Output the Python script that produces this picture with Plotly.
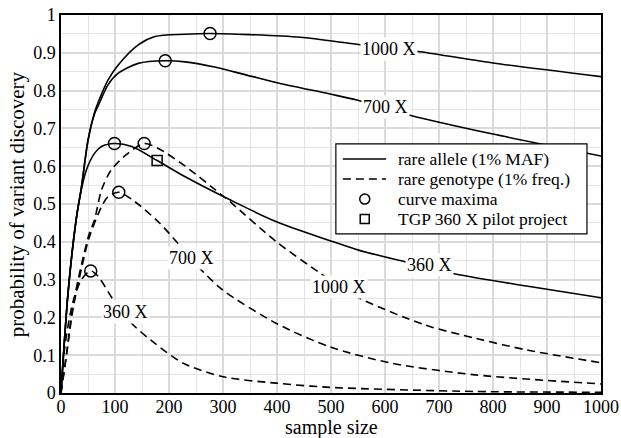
import plotly.graph_objects as go

# ---- data ----
# rare allele (solid) curves
sa1000_x = [0, 13, 28, 38, 50, 62, 69, 87, 106, 143, 174, 230, 276, 350, 443, 551, 665, 800, 1000]
sa1000_y = [0, 0.264, 0.458, 0.546, 0.669, 0.742, 0.77, 0.828, 0.868, 0.921, 0.943, 0.949, 0.951, 0.948, 0.941, 0.922, 0.903, 0.873, 0.837]

sa700_x = [0, 13, 28, 38, 50, 62, 69, 87, 106, 143, 193, 230, 282, 344, 406, 498, 548, 646, 800, 1000]
sa700_y = [0, 0.264, 0.458, 0.546, 0.668, 0.738, 0.76, 0.815, 0.846, 0.872, 0.879, 0.876, 0.863, 0.841, 0.819, 0.791, 0.775, 0.735, 0.685, 0.627]

sa360_x = [0, 13, 28, 38, 47, 62, 75, 99, 131, 178, 230, 313, 399, 498, 551, 637, 730, 862, 1000]
sa360_y = [0, 0.264, 0.458, 0.54, 0.59, 0.634, 0.652, 0.66, 0.652, 0.615, 0.572, 0.511, 0.453, 0.403, 0.378, 0.347, 0.315, 0.283, 0.252]

# rare genotype (dashed) curves
sg1000_x = [0, 10, 22, 38, 52, 62, 75, 93, 124, 154, 180, 230, 294, 313, 399, 480, 541, 674, 767, 862, 1000]
sg1000_y = [0, 0.1, 0.23, 0.34, 0.42, 0.458, 0.537, 0.59, 0.634, 0.66, 0.647, 0.6, 0.528, 0.506, 0.4, 0.317, 0.259, 0.18, 0.145, 0.114, 0.08]

sg700_x = [0, 10, 22, 38, 52, 75, 87, 107, 137, 183, 220, 254, 300, 399, 498, 612, 767, 1000]
sg700_y = [0, 0.1, 0.22, 0.33, 0.41, 0.493, 0.519, 0.531, 0.506, 0.449, 0.39, 0.334, 0.272, 0.184, 0.122, 0.079, 0.048, 0.024]

sg360_x = [0, 7, 22, 38, 55, 69, 97, 131, 174, 226, 300, 399, 498, 767, 1000]
sg360_y = [0, 0.122, 0.24, 0.3, 0.323, 0.308, 0.246, 0.184, 0.131, 0.079, 0.043, 0.026, 0.015, 0.004, 0.002]

# curve maxima and TGP pilot point
max_x = [276, 193, 99, 154, 107, 55]
max_y = [0.951, 0.879, 0.66, 0.66, 0.531, 0.323]
tgp_x = [178]
tgp_y = [0.615]

# curve labels
lab_text = ["1000 X", "700 X", "360 X", "1000 X", "700 X", "360 X"]
lab_x = [607, 600, 683, 515, 242, 120]
lab_y = [0.909, 0.757, 0.339, 0.281, 0.357, 0.215]

# legend entries
legend_labels = ["rare allele (1% MAF)", "rare genotype (1% freq.)", "curve maxima", "TGP 360 X pilot project"]

FONT = "Liberation Serif, Times New Roman, Times, serif"
fig = go.Figure()

solid = [(sa1000_x, sa1000_y), (sa700_x, sa700_y), (sa360_x, sa360_y)]
dashed = [(sg1000_x, sg1000_y), (sg700_x, sg700_y), (sg360_x, sg360_y)]
for xs, ys in solid:
    fig.add_trace(go.Scatter(x=xs, y=ys, mode="lines", showlegend=False,
                             line=dict(color="black", width=1.6, shape="spline", smoothing=0.8)))
for xs, ys in dashed:
    fig.add_trace(go.Scatter(x=xs, y=ys, mode="lines", showlegend=False,
                             line=dict(color="black", width=1.6, dash="8px,5px", shape="spline", smoothing=0.8)))

for t, x, y in zip(lab_text, lab_x, lab_y):
    fig.add_annotation(x=x, y=y, text=t, showarrow=False, bgcolor="white", borderpad=1,
                       font=dict(family=FONT, size=18, color="black"))

fig.add_trace(go.Scatter(x=max_x, y=max_y, mode="markers", showlegend=False,
                         marker=dict(symbol="circle-open", size=12, color="black", line=dict(width=1.5))))
fig.add_trace(go.Scatter(x=tgp_x, y=tgp_y, mode="markers", showlegend=False,
                         marker=dict(symbol="square-open", size=10, color="black", line=dict(width=1.5))))

axis_common = dict(showline=True, mirror=True, linecolor="black", linewidth=1.5, ticks="",
                   showgrid=True, gridcolor="#dadada", gridwidth=2, zeroline=False, automargin=False,
                   ticklabeloverflow="allow",
                   tickfont=dict(family=FONT, size=18, color="black"))
fig.update_xaxes(range=[0, 1000], dtick=100, tick0=0, ticklabelstandoff=-3,
                 minor=dict(dtick=50, showgrid=True, gridcolor="#e4e4e4", gridwidth=1),
                 **axis_common)
fig.update_yaxes(range=[0, 1], dtick=0.1, tick0=0,
                 minor=dict(dtick=0.05, showgrid=True, gridcolor="#e4e4e4", gridwidth=1),
                 **axis_common)

# axis titles
fig.add_annotation(text="sample size", xref="paper", yref="paper", x=0.5, y=-0.09,
                   xanchor="center", yanchor="middle", showarrow=False, borderpad=0,
                   font=dict(family=FONT, size=20, color="black"))
fig.add_annotation(text="probability of variant discovery", xref="paper", yref="paper", x=-0.081, y=0.5,
                   xanchor="center", yanchor="middle", showarrow=False, textangle=-90,
                   font=dict(family=FONT, size=21, color="black"))

# ---- legend box drawn in paper coordinates ----
lx0, lx1, ly0, ly1 = 0.509, 0.974, 0.421, 0.659
row_y = [0.619, 0.566, 0.513, 0.460]
sym_x0, sym_x1, sym_xc = 0.522, 0.602, 0.5625
text_x = 0.622
fig.add_shape(type="rect", xref="paper", yref="paper", x0=lx0, x1=lx1, y0=ly0, y1=ly1,
              line=dict(color="black", width=1.2), fillcolor="white", layer="above")
fig.add_shape(type="line", xref="paper", yref="paper", x0=sym_x0, x1=sym_x1, y0=row_y[0], y1=row_y[0],
              line=dict(color="black", width=1.6), layer="above")
fig.add_shape(type="line", xref="paper", yref="paper", x0=sym_x0, x1=sym_x1, y0=row_y[1], y1=row_y[1],
              line=dict(color="black", width=1.6, dash="8px,5px"), layer="above")
fig.add_shape(type="circle", xref="paper", yref="paper", xsizemode="pixel", ysizemode="pixel",
              xanchor=sym_xc, yanchor=row_y[2], x0=-5, x1=5, y0=-5, y1=5,
              line=dict(color="black", width=1.5), layer="above")
fig.add_shape(type="rect", xref="paper", yref="paper", xsizemode="pixel", ysizemode="pixel",
              xanchor=sym_xc, yanchor=row_y[3], x0=-4.5, x1=4.5, y0=-4.5, y1=4.5,
              line=dict(color="black", width=1.5), layer="above")
for lab, ry in zip(legend_labels, row_y):
    fig.add_annotation(text=lab, xref="paper", yref="paper", x=text_x, y=ry, xanchor="left", yanchor="middle",
                       showarrow=False, borderpad=0, valign="middle",
                       font=dict(family=FONT, size=17.5, color="black"))

fig.update_layout(
    width=621, height=438,
    margin=dict(l=61, r=20, t=15, b=45),
    plot_bgcolor="white", paper_bgcolor="white",
    font=dict(family=FONT, color="black"),
    showlegend=False,
)

fig.write_html("out.html", config={"displayModeBar": False},
               post_script="document.body.style.margin='0';")
